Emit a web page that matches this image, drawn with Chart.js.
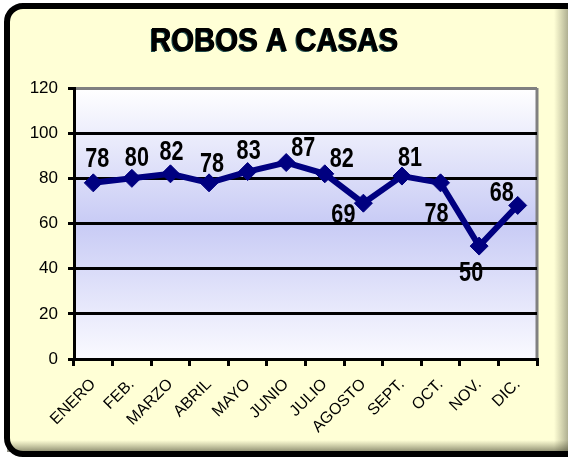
<!DOCTYPE html>
<html>
<head>
<meta charset="utf-8">
<script src="https://cdn.jsdelivr.net/npm/chart.js@4/dist/chart.umd.min.js"></script>
<style>
  html, body { margin: 0; padding: 0; width: 568px; height: 457px; overflow: hidden; background: #fff; }
  canvas { display: block; }
</style>
</head>
<body>
<canvas id="robosChart" width="568" height="457"></canvas>
<script>
// ---- data ----
const months = ['ENERO', 'FEB.', 'MARZO', 'ABRIL', 'MAYO', 'JUNIO', 'JULIO', 'AGOSTO', 'SEPT.', 'OCT.', 'NOV.', 'DIC.'];
const robos = [78, 80, 82, 78, 83, 87, 82, 69, 81, 78, 50, 68];
const yTicks = [0, 20, 40, 60, 80, 100, 120];
const chartTitle = 'ROBOS A CASAS';

// label placement (dx, dy from the point), like the original sheet
const labelOffsets = [[4, -23], [5, -20], [1, -21], [3, -18], [1, -20], [17, -14], [17, -14], [-20, 12], [8, -18], [-4, 32], [-8, 27], [-16, -12]];

const navy = '#000080';

// yellow card with rounded black border, cut at right/bottom
const cardFrame = {
  id: 'cardFrame',
  beforeDraw(chart) {
    const { ctx, width, height } = chart;
    ctx.save();
    ctx.fillStyle = '#fff';
    ctx.fillRect(0, 0, width, height);
    ctx.beginPath();
    ctx.roundRect(7, 6, 620, 448, 16);
    ctx.fillStyle = '#FFFFD6';
    ctx.fill();
    // right shading
    let g = ctx.createLinearGradient(554, 0, width, 0);
    g.addColorStop(0, 'rgba(120,120,90,0)');
    g.addColorStop(1, 'rgba(110,110,90,0.55)');
    ctx.fillStyle = g;
    ctx.fillRect(554, 6, width - 554, 448);
    // bottom shading
    g = ctx.createLinearGradient(0, 440, 0, 452);
    g.addColorStop(0, 'rgba(90,90,60,0)');
    g.addColorStop(1, 'rgba(60,60,40,0.6)');
    ctx.fillStyle = g;
    ctx.fillRect(7, 440, width, 12);
    ctx.lineWidth = 6;
    ctx.strokeStyle = '#000';
    ctx.stroke();
    ctx.restore();
  }
};

// plot background + right border
const plotBg = {
  id: 'plotBg',
  beforeDraw(chart) {
    const { ctx, chartArea: a } = chart;
    const g = ctx.createLinearGradient(0, a.top, 0, a.bottom);
    g.addColorStop(0, '#FFFFFF');
    g.addColorStop(0.5, '#C8CBF5');
    g.addColorStop(1, '#FAFAFF');
    ctx.save();
    ctx.fillStyle = g;
    ctx.fillRect(a.left, a.top, a.right - a.left, a.bottom - a.top);
    ctx.strokeStyle = '#808080';
    ctx.lineWidth = 3;
    ctx.beginPath();
    ctx.moveTo(a.right, a.top);
    ctx.lineTo(a.right, a.bottom);
    ctx.stroke();
    ctx.restore();
  }
};

// title drawn narrow, with a faint shadow
const narrowTitle = {
  id: 'narrowTitle',
  afterDraw(chart) {
    const ctx = chart.ctx;
    ctx.save();
    ctx.font = 'bold 33px "Liberation Sans", Arial, sans-serif';
    const w = ctx.measureText(chartTitle).width;
    const sx = 248 / w;
    ctx.translate(274, 42);
    ctx.scale(sx, 1);
    ctx.textAlign = 'center';
    ctx.textBaseline = 'middle';
    ctx.fillStyle = '#1f4a4a';
    ctx.fillText(chartTitle, -1, 1);
    ctx.fillStyle = '#000';
    ctx.fillText(chartTitle, 0, 0);
    ctx.fillText(chartTitle, 0.6, 0);
    ctx.restore();
  }
};

// value labels
const valueLabels = {
  id: 'valueLabels',
  afterDatasetsDraw(chart) {
    const ctx = chart.ctx;
    const meta = chart.getDatasetMeta(0);
    ctx.save();
    ctx.font = 'bold 27px "Liberation Sans", Arial, sans-serif';
    ctx.textAlign = 'center';
    ctx.textBaseline = 'middle';
    ctx.fillStyle = '#000';
    meta.data.forEach((pt, i) => {
      const [dx, dy] = labelOffsets[i];
      ctx.save();
      ctx.translate(pt.x + dx, pt.y + dy);
      ctx.scale(0.8, 1);
      ctx.fillText(String(robos[i]), 0, 0);
      ctx.restore();
    });
    ctx.restore();
  }
};

const ctx = document.getElementById('robosChart').getContext('2d');
new Chart(ctx, {
  type: 'line',
  data: {
    labels: months,
    datasets: [{
      label: chartTitle,
      data: robos,
      borderColor: navy,
      backgroundColor: navy,
      borderWidth: 6,
      tension: 0,
      pointStyle: 'rectRot',
      pointRadius: 9,
      pointHoverRadius: 9,
      pointBackgroundColor: navy,
      pointBorderColor: navy,
      pointBorderWidth: 1,
    }]
  },
  options: {
    responsive: false,
    animation: false,
    layout: { padding: { top: 88, left: 0, right: 31, bottom: 0 } },
    plugins: { legend: { display: false }, tooltip: { enabled: false } },
    scales: {
      y: {
        min: 0, max: 120,
        afterBuildTicks: s => { s.ticks = yTicks.map(v => ({ value: v })); },
        afterFit: s => { s.width = 74; },
        border: { display: true, color: '#000', width: 3 },
        grid: {
          color: c => (c.tick && c.tick.value === 120 ? '#808080' : '#000'),
          lineWidth: 3,
          tickColor: '#000',
          tickLength: 6,
        },
        ticks: { color: '#000', padding: 10, font: { family: '"Liberation Sans", Arial, sans-serif', size: 17 } }
      },
      x: {
        offset: true,
        afterFit: s => { s.height = 98; },
        border: { display: true, color: '#000', width: 3 },
        grid: { offset: true, drawOnChartArea: false, color: '#000', lineWidth: 3, tickLength: 7 },
        ticks: {
          color: '#000', padding: 9, minRotation: 45, maxRotation: 45, autoSkip: false,
          font: { family: '"Liberation Sans", Arial, sans-serif', size: 16 }
        }
      }
    }
  },
  plugins: [cardFrame, plotBg, valueLabels, narrowTitle]
});
</script>
</body>
</html>
